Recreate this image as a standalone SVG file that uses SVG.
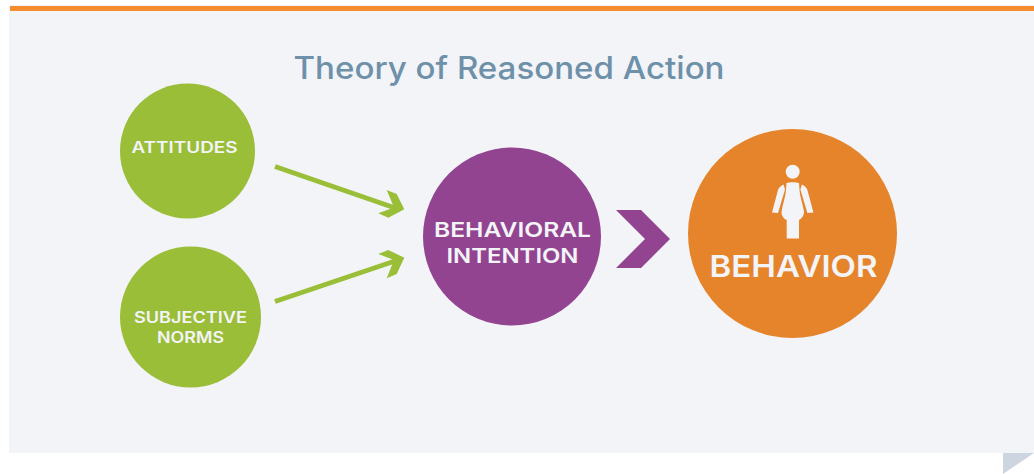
<svg xmlns="http://www.w3.org/2000/svg" width="1034" height="474" viewBox="0 0 1034 474">
<style>
text{font-family:Inter,"Liberation Sans",sans-serif;text-anchor:middle;fill:#f3f4f8}
.b{font-weight:600;font-size:15.500px}
.c{font-weight:600;font-size:20.500px}
.g{fill:#9abe37}
.s{stroke:#9abe37;stroke-width:5;fill:none}
</style>
<rect width="1034" height="474" fill="#fff"/>
<rect x="9" y="5" width="1025" height="448" fill="#f2f4f8"/>
<rect x="10" y="6" width="1024" height="5" fill="#f58d2e"/>
<polygon points="1003,453 1034,453 1003,474" fill="#cdd5e1"/>
<text x="509" y="79" font-size="31" font-weight="500" textLength="431" lengthAdjust="spacingAndGlyphs" style="fill:#6e90a9">Theory of Reasoned Action</text>
<g id="connectors">
<line class="s" x1="275" y1="166.500" x2="398" y2="209"/>
<polygon class="g" points="386.700,190 396.700,194 404.300,209.300 388.300,217.700 378.300,213.300 394,207.500"/>
<line class="s" x1="275" y1="301.500" x2="398" y2="260"/>
<polygon class="g" points="378.300,254 388.300,250 404.300,257.700 396.700,274 386.700,278.300 394,260"/>
<polygon points="616,210 641,210 670,239 641,268 616,268 645,239" fill="#924491"/>
</g>
<g id="attitudes"><circle cx="187.500" cy="151" r="67.500" fill="#9abe37"/><text class="b" x="184.500" y="152.500" textLength="106" lengthAdjust="spacingAndGlyphs">ATTITUDES</text></g>
<g id="subjective-norms"><circle cx="190.500" cy="317" r="70.500" fill="#9abe37"/><text class="b" x="190.500" y="322.500" textLength="113" lengthAdjust="spacingAndGlyphs">SUBJECTIVE</text><text class="b" x="190.500" y="343" textLength="67" lengthAdjust="spacingAndGlyphs">NORMS</text></g>
<g id="behavioral-intention"><circle cx="512" cy="236.500" r="89" fill="#924491"/><text class="c" x="512.500" y="237" textLength="157" lengthAdjust="spacingAndGlyphs">BEHAVIORAL</text><text class="c" x="512.500" y="263" textLength="132" lengthAdjust="spacingAndGlyphs">INTENTION</text></g>
<g id="behavior"><circle cx="792.500" cy="233.500" r="104.500" fill="#e6842c"/>
<g fill="#f3f4f8"><circle cx="792.700" cy="171.700" r="7"/>
<path d="M786.500,183C790,182 795.500,182 799,183L799.500,190C800,198 803,204 804,212C804,216 801,219 799,220L799,238.500L786.700,238.500L786.700,220C784,219 781.500,216 781.500,212C782.500,204 785.500,198 786,190Z"/>
<path d="M783.500,184.500L785,189.500L778,213L772,212.500L778,190C779,187.500 781,185.500 783.500,184.500Z"/><path d="M801.900,184.500L800.400,189.500L807.400,213L813.400,212.500L807.400,190C806.400,187.500 804.400,185.500 801.900,184.500Z"/></g>
<text x="793.500" y="277" font-size="30" font-weight="600" textLength="168" lengthAdjust="spacingAndGlyphs">BEHAVIOR</text></g>
</svg>
